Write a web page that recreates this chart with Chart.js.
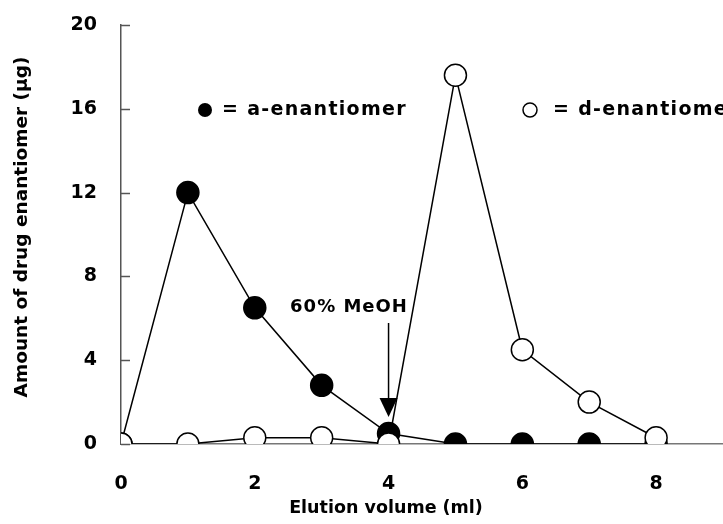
<!DOCTYPE html>
<html>
<head>
<meta charset="utf-8">
<script src="https://cdn.jsdelivr.net/npm/chart.js@4"></script>
<style>
  html, body { margin: 0; padding: 0; background: #fff; }
  #wrap { width: 723px; height: 524px; }
</style>
</head>
<body>
<div id="wrap"><canvas id="chart" width="723" height="524"></canvas></div>
<script>
// Data
const elutionVolume = [0, 1, 2, 3, 4, 5, 6, 7, 8];
const aEnantiomer = [0, 12, 6.5, 2.8, 0.5, 0, 0, 0, 0];
const dEnantiomer = [0, 0, 0.3, 0.3, 0, 17.6, 4.5, 2, 0.3];
const xTicks = [0, 2, 4, 6, 8];
const yTicks = [0, 4, 8, 12, 16, 20];
const xTitle = 'Elution volume (ml)';
const yTitle = 'Amount of drug enantiomer (µg)';

const FONT = '"DejaVu Sans", Verdana, sans-serif';

const toPoints = (ys) => elutionVolume.map((x, i) => ({ x: x, y: ys[i] }));

// inner y ticks, axis titles, legend text and the 60% MeOH arrow
const extras = {
    id: 'extras',
    afterDraw(chart) {
        const ctx = chart.ctx;
        const xs = chart.scales.x;
        const ys = chart.scales.y;
        ctx.save();

        // y ticks pointing into the plot
        ctx.strokeStyle = '#555';
        ctx.lineWidth = 1.5;
        yTicks.forEach(v => {
            const py = Math.round(ys.getPixelForValue(v)) + 0.5;
            ctx.beginPath();
            ctx.moveTo(xs.left, py);
            ctx.lineTo(xs.left + 9, py);
            ctx.stroke();
        });

        ctx.fillStyle = '#000';
        ctx.textBaseline = 'middle';

        // axis titles
        ctx.font = 'bold 17.5px ' + FONT;
        ctx.textAlign = 'center';
        ctx.fillText(xTitle, 386, 508);
        ctx.save();
        ctx.font = 'bold 18.5px ' + FONT;
        ctx.translate(22, 227);
        ctx.rotate(-Math.PI / 2);
        ctx.fillText(yTitle, 0, 0);
        ctx.restore();

        // legend
        ctx.letterSpacing = '1.3px';
        ctx.textAlign = 'left';
        ctx.font = 'bold 19px ' + FONT;
        ctx.beginPath();
        ctx.arc(205, 110, 7, 0, Math.PI * 2);
        ctx.fill();
        ctx.fillText('= a-enantiomer', 222, 110);

        ctx.beginPath();
        ctx.arc(530, 110, 7, 0, Math.PI * 2);
        ctx.strokeStyle = '#000';
        ctx.lineWidth = 1.5;
        ctx.stroke();
        ctx.fillText('= d-enantiomer', 553, 110);

        // 60% MeOH arrow at x = 4
        const ax = xs.getPixelForValue(4);
        ctx.letterSpacing = '1px';
        ctx.font = 'bold 18px ' + FONT;
        ctx.textAlign = 'center';
        ctx.fillText('60% MeOH', 349, 307);
        ctx.lineWidth = 1.5;
        ctx.beginPath();
        ctx.moveTo(ax, 323);
        ctx.lineTo(ax, 400);
        ctx.stroke();
        ctx.beginPath();
        ctx.moveTo(ax - 9, 398);
        ctx.lineTo(ax + 9, 398);
        ctx.lineTo(ax, 417);
        ctx.closePath();
        ctx.fill();

        ctx.restore();
    }
};

new Chart(document.getElementById('chart'), {
    type: 'scatter',
    data: {
        datasets: [
            {
                label: 'd-enantiomer',
                data: toPoints(dEnantiomer),
                showLine: true,
                borderColor: '#000',
                borderWidth: 1.5,
                pointRadius: 11,
                pointBackgroundColor: '#fff',
                pointBorderColor: '#000',
                pointBorderWidth: 1.5,
                order: 0
            },
            {
                label: 'a-enantiomer',
                data: toPoints(aEnantiomer),
                showLine: true,
                borderColor: '#000',
                borderWidth: 1.5,
                pointRadius: 11,
                pointBackgroundColor: '#000',
                pointBorderColor: '#000',
                pointBorderWidth: 1.5,
                order: 1
            }
        ]
    },
    options: {
        responsive: false,
        animation: false,
        layout: { autoPadding: false, padding: { top: 25, right: 0, left: 0, bottom: 0 } },
        plugins: {
            legend: { display: false },
            tooltip: { enabled: false }
        },
        scales: {
            x: {
                type: 'linear',
                min: 0,
                max: 9,
                afterBuildTicks: (s) => { s.ticks = xTicks.map(v => ({ value: v })); },
                afterFit: (s) => {
                    s.height = 80;
                    s.paddingLeft = 0;
                    s.paddingRight = 0;
                },
                grid: { display: false },
                border: { display: true, color: '#777', width: 1.5 },
                ticks: {
                    padding: 21,
                    color: '#000',
                    font: { family: FONT, size: 19, weight: 'bold' }
                }
            },
            y: {
                min: 0,
                max: 20,
                afterBuildTicks: (s) => { s.ticks = yTicks.map(v => ({ value: v })); },
                afterFit: (s) => {
                    s.width = 121;
                    s.paddingTop = 0;
                    s.paddingBottom = 0;
                },
                grid: { display: false },
                border: { display: true, color: '#555', width: 1.5 },
                ticks: {
                    padding: 16,
                    color: '#000',
                    font: { family: FONT, size: 19, weight: 'bold' }
                }
            }
        }
    },
    plugins: [extras]
});
</script>
</body>
</html>
